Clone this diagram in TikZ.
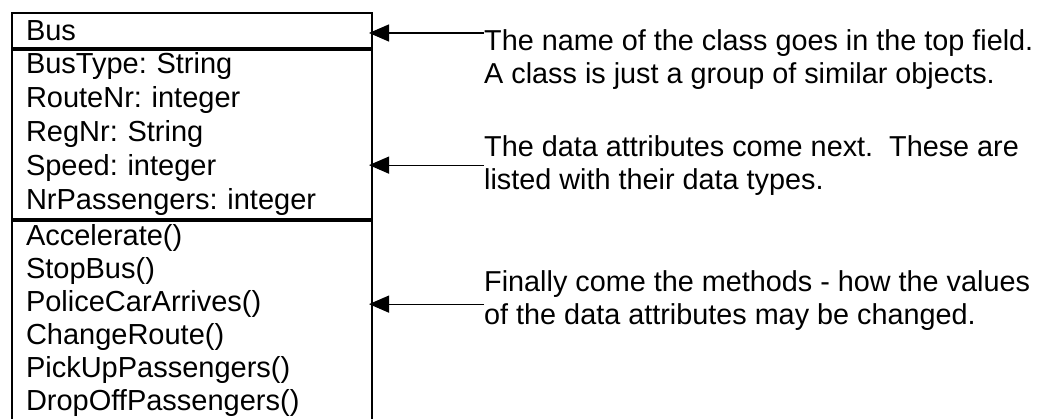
\documentclass[tikz,border=0pt]{standalone}
\usepackage{fontspec}
\setmainfont{Liberation Sans}
\frenchspacing
\usetikzlibrary{arrows.meta,positioning}

\tikzset{
    classpart/.style={draw, line width=2pt, text width=332pt, align=left,
        inner xsep=14pt, inner ysep=0pt, anchor=north west,
        font=\fontsize{29}{34}\selectfont},
    note/.style={anchor=north west, align=left, inner sep=0pt,
        font=\fontsize{28.8}{33}\selectfont},
    pointer/.style={-{Triangle[length=20pt,width=17pt]}, line width=1.2pt,
        shorten >=-4pt}
}

\begin{document}
\begin{tikzpicture}[x=1pt,y=-1pt]
    \useasboundingbox (0,0) rectangle (1039,419);

    % class box, the lowest part runs past the bottom edge
    \node[classpart, minimum height=35pt] (name) at (11,12) {Bus};
    \node[classpart, minimum height=169pt] (attrs) at (name.south west) {BusType: String\\
        RouteNr: integer\\
        RegNr: String\\
        Speed: integer\\
        NrPassengers: integer};
    \node[classpart, inner ysep=3pt, font=\fontsize{29}{33}\selectfont] (ops) at (attrs.south west) {Accelerate()\\
        StopBus()\\
        PoliceCarArrives()\\
        ChangeRoute()\\
        PickUpPassengers()\\
        DropOffPassengers()\\
        ~};

    \node[note] (namenote) at (484,29) {The name of the class goes in the top field.\\
        A class is just a group of similar objects.};
    \node[note] (attrnote) at (484,135) {The data attributes come next.\ \ These are\\
        listed with their data types.};
    \node[note] (opsnote) at (484,270) {Finally come the methods - how the values\\
        of the data attributes may be changed.};

    \draw[pointer] ([yshift=-4pt]namenote.north west) -- ([yshift=-4pt]namenote.north west -| name.east);
    \draw[pointer] (attrnote.west) -- (attrnote.west -| attrs.east);
    \draw[pointer] ([yshift=-4pt]opsnote.west) -- ([yshift=-4pt]opsnote.west -| ops.east);
\end{tikzpicture}
\end{document}
